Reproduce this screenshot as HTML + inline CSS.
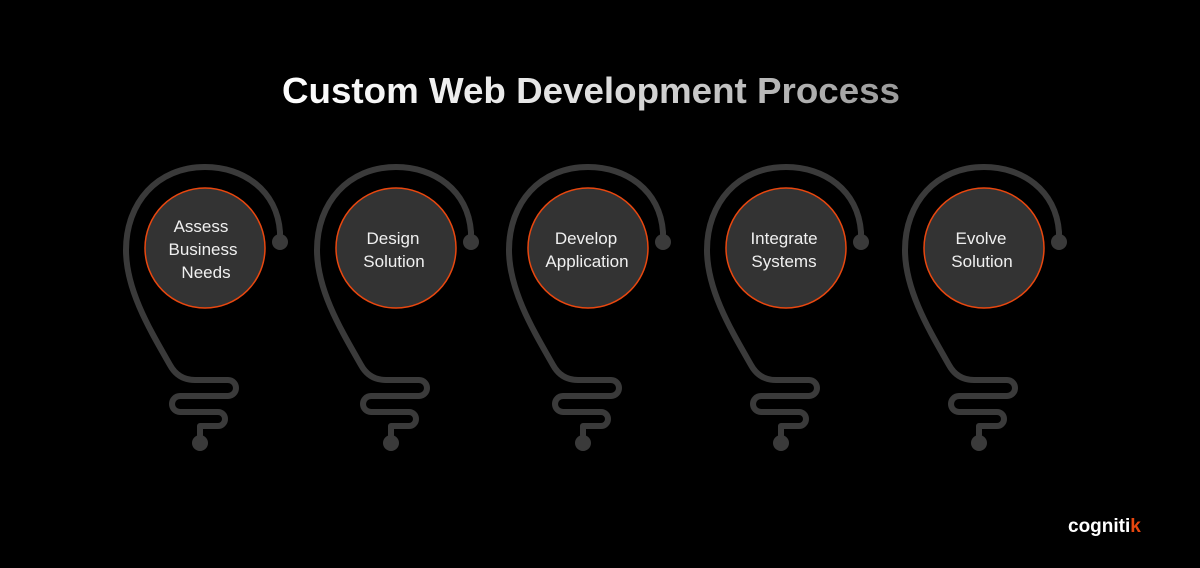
<!DOCTYPE html>
<html><head><meta charset="utf-8"><style>
html,body{margin:0;padding:0;background:#000;}
svg{display:block;}
</style></head><body>
<svg width="1200" height="568" viewBox="0 0 1200 568" xmlns="http://www.w3.org/2000/svg">
<defs>
<linearGradient id="tg" x1="282" y1="0" x2="900" y2="0" gradientUnits="userSpaceOnUse">
<stop offset="0" stop-color="#ffffff"/><stop offset="0.5" stop-color="#e0e0e0"/><stop offset="1" stop-color="#9a9a9a"/>
</linearGradient>
<g id="bulb">
<path d="M75 -6 L75 -16 C72 -58 38 -81 0 -81 C-48 -81 -79 -45 -79 2 C-79 42 -55 82 -35 117 C-29 128 -20 132 -10 132 L23 132 A8 8 0 0 1 23 148 L-25 148 A8 8 0 0 0 -25 164 L13 164 A7 7 0 0 1 13 178 L-5 178 L-5 195" fill="none" stroke="#3a3a3a" stroke-width="6" stroke-linecap="round" stroke-linejoin="round"/>
<circle cx="75" cy="-6" r="8" fill="#3a3a3a"/>
<circle cx="-5" cy="195" r="8" fill="#3a3a3a"/>
<circle cx="0" cy="0" r="60" fill="#333333" stroke="#e8470f" stroke-width="1.5"/>
</g>
</defs>
<text x="282" y="103" font-family="Liberation Sans, sans-serif" font-weight="bold" font-size="36" fill="url(#tg)" textLength="618" lengthAdjust="spacingAndGlyphs">Custom Web Development Process</text>
<g font-family="Liberation Sans, sans-serif" font-size="17" fill="#f0f0f0" text-anchor="middle">
<use href="#bulb" x="205" y="248"/>
<text x="201" y="232">Assess</text><text x="203" y="255">Business</text><text x="206" y="278">Needs</text>
<use href="#bulb" x="396" y="248"/>
<text x="393" y="244">Design</text><text x="394" y="267">Solution</text>
<use href="#bulb" x="588" y="248"/>
<text x="586" y="244">Develop</text><text x="587" y="267">Application</text>
<use href="#bulb" x="786" y="248"/>
<text x="784" y="244">Integrate</text><text x="784" y="267">Systems</text>
<use href="#bulb" x="984" y="248"/>
<text x="981" y="244">Evolve</text><text x="982" y="267">Solution</text>
</g>
<text x="1068" y="532" font-family="Liberation Sans, sans-serif" font-weight="bold" font-size="19" fill="#ffffff">cogniti<tspan fill="#e8470f">k</tspan></text>
</svg>
</body></html>
